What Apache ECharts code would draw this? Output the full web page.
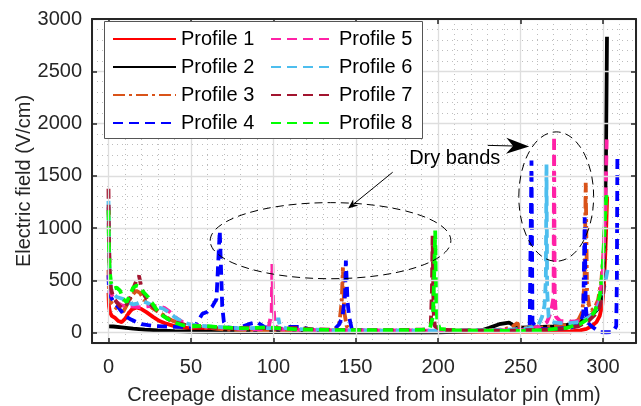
<!DOCTYPE html>
<html><head><meta charset="utf-8">
<script src="https://cdn.jsdelivr.net/npm/echarts@6/dist/echarts.min.js"></script>
<style>html,body{margin:0;padding:0;background:#fff}#c{width:641px;height:406px}</style>
</head><body><div id="c"></div>
<script>
const seriesNames = ['Profile 1','Profile 2','Profile 3','Profile 4','Profile 5','Profile 6','Profile 7','Profile 8'];
const xTitle = 'Creepage distance measured from insulator pin (mm)';
const yTitle = 'Electric field (V/cm)';
const annotationText = 'Dry bands';

const p1 = [[0,380],[0.3,250],[1,190],[2,160],[4,140],[6,110],[8,100],[10,130],[12,180],[14,220],[17,240],[20,225],[23,195],[27,150],[31,110],[35,85],[40,62],[45,50],[50,40],[60,30],[70,22],[80,18],[100,12],[130,10],[160,8],[200,6],[230,6],[260,8],[280,12],[286,20],[290,35],[293,60],[296,100],[298,160],[299.5,260],[300.5,450],[301.5,800],[302.5,1300]];
const p2 = [[0,60],[3,58],[8,50],[15,38],[22,28],[30,20],[40,14],[50,10],[65,7],[80,5],[100,4],[150,3],[200,3],[225,15],[231,45],[237,80],[243,96],[246,65],[250,48],[260,52],[270,58],[280,75],[286,105],[290,140],[294,178],[297,230],[299,320],[300,500],[301,900],[301.8,1700],[302.4,2830]];
const p3 = [[0,600],[0.3,380],[1,300],[3,260],[5,230],[7,210],[9,200],[11,260],[13,320],[15,370],[17,400],[19,380],[21,330],[24,270],[27,230],[30,200],[34,160],[38,120],[43,85],[50,60],[60,45],[70,30],[85,22],[100,18],[120,15],[137,20],[140,80],[141.5,300],[142.2,623],[143,200],[144.5,60],[147,25],[160,18],[180,15],[200,14],[220,16],[240,30],[245,55],[248,90],[250,45],[260,45],[270,55],[280,75],[285,120],[287.5,200],[288.8,500],[289.5,1433],[290.3,400],[291.5,260],[293,210],[295,240],[297,310],[299,500],[300.5,800],[301.5,1100],[302.4,1290]];
const p4 = [[0,550],[0.3,420],[1,350],[3,300],[5,260],[7,220],[9,180],[11,150],[13,130],[15,115],[17,100],[20,80],[24,70],[28,62],[33,60],[38,55],[44,55],[50,55],[53,70],[55,130],[57,180],[60,200],[63,250],[65.5,320],[67.5,975],[68.5,500],[69,250],[70,100],[72,50],[78,40],[85,80],[90,100],[95,50],[105,35],[110,55],[117,55],[122,30],[130,20],[137,30],[140,80],[142,160],[143.5,350],[144,688],[145,300],[146,150],[147.5,40],[150,20],[170,15],[200,15],[230,15],[250,18],[255.5,40],[256.6,1647],[257.2,100],[260,35],[270,35],[280,45],[286,70],[288,180],[288.9,1103],[289.5,250],[290.5,100],[293,60],[296,25],[298,5],[302,3],[306,5],[308,60],[308.4,500],[308.7,1672]];
const p5 = [[0,1200],[0.3,800],[0.7,500],[1.5,380],[3,320],[5,290],[8,260],[11,250],[14,250],[17,245],[20,240],[23,250],[27,255],[31,250],[34,235],[37,200],[41,140],[45,100],[50,75],[60,55],[70,45],[80,35],[90,30],[97,35],[99,200],[99.4,656],[99.8,300],[101,60],[105,30],[120,25],[140,20],[160,18],[180,20],[200,18],[220,18],[240,20],[255,30],[262,60],[266,100],[268.5,200],[270,340],[270.3,1877],[270.7,350],[271.5,150],[274,110],[280,105],[286,110],[291,140],[295,200],[298,320],[300,600],[301,1000],[301.8,1500],[302.3,1905]];
const p6 = [[0,1260],[0.3,850],[0.7,550],[1.5,420],[3,370],[5,340],[7,330],[9,320],[11,300],[13,280],[15,270],[18,280],[21,300],[24,280],[27,255],[30,240],[33,230],[36,200],[40,150],[45,100],[50,75],[60,60],[70,50],[80,40],[90,45],[100,40],[102,70],[103,140],[104,60],[108,40],[120,30],[140,22],[160,18],[180,20],[200,18],[220,22],[240,25],[252,35],[258,50],[261,80],[263,150],[264.5,260],[265.3,500],[265.7,1608],[266.1,400],[267,150],[269,100],[274,90],[280,90],[286,100],[292,150],[296,220],[299,320],[301,450],[303,620]];
const p7 = [[0,1375],[0.3,900],[0.7,600],[1.5,420],[3,330],[5,290],[7,250],[9,230],[11,270],[13,330],[15,420],[17,500],[18.5,545],[20,430],[22,350],[25,280],[28,230],[32,180],[36,130],[41,95],[47,70],[55,55],[65,45],[75,40],[85,48],[95,42],[105,38],[115,45],[125,30],[140,25],[160,22],[180,25],[192,28],[195.5,80],[196.2,400],[196.6,927],[197.2,200],[198,60],[202,25],[220,20],[240,18],[260,25],[275,35],[285,60],[291,110],[295,170],[298,250],[300,360],[301,496]];
const p8 = [[0,1170],[0.3,800],[0.7,600],[1.5,480],[3,420],[5,430],[7,400],[9,320],[11,290],[13,360],[15,430],[17,450],[19,440],[21,390],[24,340],[27,270],[30,200],[33,160],[36,130],[40,95],[45,70],[50,60],[58,65],[65,55],[75,45],[85,40],[95,50],[105,40],[115,30],[130,25],[150,22],[170,22],[190,25],[195,40],[196.8,150],[197.5,500],[198.2,975],[198.8,300],[199.5,100],[201,35],[210,22],[230,18],[250,15],[265,25],[278,45],[286,80],[291,130],[295,200],[298,350],[299.5,550],[300.5,850],[301.5,1200],[302.2,1330]];
const allData = [p1,p2,p3,p4,p5,p6,p7,p8];

const colors = ['#ff0000','#000000','#d95319','#0000ff','#ff21a6','#4dbeee','#a2142f','#00ff00'];
const dashes = ['solid','solid',[12,4,3,4],[10,6],[10,6],[10,6],[10,6],[10,6]];

const FONT = '"Liberation Sans", Arial, Helvetica, sans-serif';
const TXT = '#262626';
const chart = echarts.init(document.getElementById('c'), null, {renderer:'canvas'});

const X_MIN = -10, X_MAX = 320, Y_MIN = -100, Y_MAX = 3000;
const majorLine = {show:true, lineStyle:{color:'#dedede', width:1.3}};
const minorLine = {show:true, lineStyle:{color:'#bdbdbd', width:1, type:[1,4]}};

function mainAxis(pos, isX, withLabels){
  const o = {
    type:'value', position:pos, min: isX?X_MIN:Y_MIN, max: isX?X_MAX:Y_MAX,
    splitNumber: isX?7:6,
    axisLine:{show:true, onZero:false, lineStyle:{color:TXT, width:2}},
    axisTick:{show:true, inside:true, length:5, lineStyle:{color:TXT, width:1.5}},
    axisLabel:{show:withLabels, color:TXT, fontSize:20, fontFamily:FONT, margin: isX?14:10,
      showMinLabel:false, showMaxLabel: !isX, formatter: v => String(v)},
    splitLine: withLabels ? majorLine : {show:false},
    z: 5
  };
  if (withLabels) {
    o.name = isX ? xTitle : yTitle;
    o.nameLocation = 'middle';
    o.nameGap = isX ? 42 : 58;
    o.nameMoveOverlap = false;
    o.nameTextStyle = {color:TXT, fontSize:20, fontFamily:FONT};
  }
  return o;
}
function minorAxis(pos, isX){
  return {
    type:'value', position:pos, min: isX?X_MIN:Y_MIN, max: isX?X_MAX:Y_MAX,
    interval: isX?10:100,
    axisLine:{show:false}, axisTick:{show:false}, axisLabel:{show:false},
    splitLine: minorLine
  };
}

const series = allData.map((d,i)=>({
  name: seriesNames[i], type:'line', data:d, xAxisIndex:0, yAxisIndex:0,
  symbol:'none', showSymbol:false, animation:false, z: 2 + i*0.01,
  lineStyle:{color:colors[i], width:3.8, type:dashes[i]},
  itemStyle:{color:colors[i]}
}));

const legendBase = {
  orient:'vertical', itemWidth:63, itemHeight:14, itemGap:8, padding:0,
  selectedMode:false, textStyle:{color:'#000', fontSize:20, fontFamily:FONT, lineHeight:20},
  itemStyle:{opacity:0},
  z: 10
};

chart.setOption({
  animation:false,
  backgroundColor:'#fff',
  grid:{left:92, right:5, top:19, bottom:63, containLabel:false, outerBoundsMode:'none'},
  xAxis:[ mainAxis('bottom', true, true), minorAxis('bottom', true), mainAxis('top', true, false) ],
  yAxis:[ mainAxis('left', false, true), minorAxis('left', false), mainAxis('right', false, false) ],
  legend:[
    Object.assign({}, legendBase, {left:112, top:29, data:seriesNames.slice(0,4)}),
    Object.assign({}, legendBase, {left:270, top:29, data:seriesNames.slice(4,8)})
  ],
  series: series
});

// annotation anchors in data coordinates
const ell1 = {c:[134.7, 879], rx:73, ry:364};
const ell2 = {c:[271.6, 1301], rx:22.7, ry:619};
const textAnchor = [182.4, 1666];
const arrow1 = {from:[172.4,1534], to:[145.3,1186], len:10, wid:8};
const arrow2 = {from:[230.1,1791], to:[255.2,1781], len:23, wid:16};

const px = p => chart.convertToPixel({gridIndex:0}, p);
function ellipseEl(e){
  const c = px(e.c);
  const rx = px([e.c[0]+e.rx, e.c[1]])[0] - c[0];
  const ry = c[1] - px([e.c[0], e.c[1]+e.ry])[1];
  return {type:'ellipse', shape:{cx:c[0], cy:c[1], rx:rx, ry:ry}, z:20,
    style:{fill:'none', stroke:'#000', lineWidth:1, lineDash:[8,5]}};
}
function arrowEls(a){
  const s = px(a.from), t = px(a.to);
  const dx = t[0]-s[0], dy = t[1]-s[1], L = Math.hypot(dx,dy);
  const ux = dx/L, uy = dy/L, nx = -uy, ny = ux;
  const bx = t[0]-a.len*ux, by = t[1]-a.len*uy;
  const mx = t[0]-a.len*0.7*ux, my = t[1]-a.len*0.7*uy;
  return [
    {type:'line', shape:{x1:s[0], y1:s[1], x2:mx, y2:my}, z:20, style:{stroke:'#000', lineWidth:1}},
    {type:'polygon', shape:{points:[[t[0],t[1]],[bx+nx*a.wid/2, by+ny*a.wid/2],[mx,my],[bx-nx*a.wid/2, by-ny*a.wid/2]]}, z:20, style:{fill:'#000'}}
  ];
}
const tp = px(textAnchor);
chart.setOption({
  graphic:{elements:[
    {type:'rect', shape:{x:104.5, y:21.5, width:318, height:117}, z:9,
      style:{fill:'#fff', stroke:'#555', lineWidth:1}},
    ellipseEl(ell1), ellipseEl(ell2),
    ...arrowEls(arrow1), ...arrowEls(arrow2),
    {type:'text', x:tp[0], y:tp[1], z:20, style:{text:annotationText, fill:'#000', fontSize:20, fontFamily:FONT, verticalAlign:'middle', align:'left'}}
  ]}
});
</script>
</body></html>
